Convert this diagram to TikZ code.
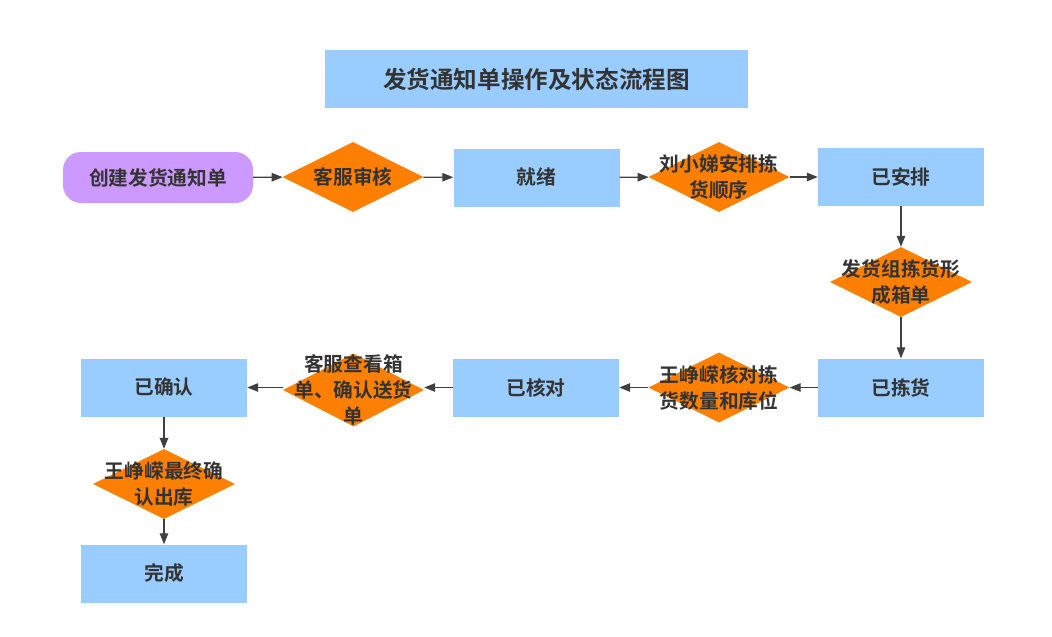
\documentclass[tikz,border=0pt]{standalone}
\usepackage{fontspec}
\setmainfont{Noto Sans CJK SC}[BoldFont={Noto Sans CJK SC Bold}]
\usetikzlibrary{shapes.geometric,arrows.meta}
\definecolor{boxblue}{HTML}{99CCFF}
\definecolor{startpurple}{HTML}{CC99FF}
\definecolor{diaorange}{HTML}{FF8000}
\definecolor{txtgray}{HTML}{333333}
\definecolor{linegray}{HTML}{404040}
\tikzset{
  lbl/.style={font=\bfseries\fontsize{19.7}{26}\selectfont, text=txtgray, align=center},
  box/.style={lbl, fill=boxblue, minimum width=166pt, minimum height=58pt, inner sep=0pt},
  startbox/.style={lbl, fill=startpurple, rounded corners=18pt, minimum width=190pt, minimum height=51pt, inner sep=0pt},
  dia/.style={shape=diamond, fill=diaorange, minimum width=141pt, minimum height=70pt, inner sep=0pt},
  titlebox/.style={fill=boxblue, minimum width=423pt, minimum height=58pt, inner sep=0pt, text=txtgray, font=\bfseries\fontsize{23.6}{28}\selectfont},
  arr/.style={draw=linegray, line width=1.3pt, -{Triangle[length=11pt,width=8.5pt]}}
}
\begin{document}
\begin{tikzpicture}[x=1pt,y=-1pt]
\useasboundingbox (0,0) rectangle (1052,637);
\node[titlebox] (title) at (536.5,79) {发货通知单操作及状态流程图};
% row 1
\node[startbox] (start) at (158,177.5) {创建发货通知单};
\node[dia] (d1) at (353,177) {};
\node[lbl] (t1) at (d1) {客服审核};
\node[box] (r1) at (536.5,177.5) {就绪};
\node[dia] (d2) at (719,177) {};
\node[lbl] (t2) at (d2) {刘小娣安排拣\\货顺序};
\node[box] (r2) at (901,177) {已安排};
\node[dia, minimum width=142pt] (d3) at (901,282) {};
\node[lbl] (t3) at (d3) {发货组拣货形\\成箱单};
% row 2
\node[box] (r3) at (901,387.5) {已拣货};
\node[dia] (d4) at (719,387.5) {};
\node[lbl] (t4) at (d4) {王峥嵘核对拣\\货数量和库位};
\node[box] (r4) at (536,387.5) {已核对};
\node[dia, minimum height=73pt] (d5) at (353.5,390) {};
\node[lbl] (t5) at (d5) {客服查看箱\\单、确认送货\\单};
\node[box] (r5) at (164,387.5) {已确认};
\node[dia, minimum width=142pt] (d6) at (164,484) {};
\node[lbl] (t6) at (d6) {王峥嵘最终确\\认出库};
\node[box] (r6) at (164,573.5) {完成};
% connectors
\draw[arr] (start) -- (d1);
\draw[arr] (d1) -- (r1);
\draw[arr] (r1) -- (d2);
\draw[arr] (d2) -- (r2);
\draw[arr] (r2) -- (d3);
\draw[arr] (d3) -- (r3);
\draw[arr] (r3) -- (d4);
\draw[arr] (d4) -- (r4);
\draw[arr] (r4.west) -- (d5.east |- r4.west);
\draw[arr] (d5.west |- r5.east) -- (r5.east);
\draw[arr] (r5) -- (d6);
\draw[arr] (d6) -- (r6);
\end{tikzpicture}
\end{document}
